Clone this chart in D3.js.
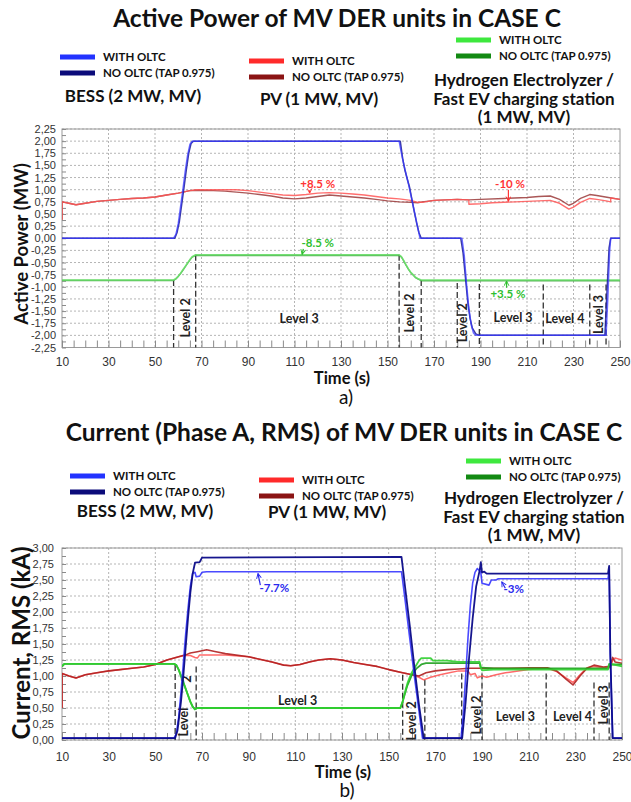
<!DOCTYPE html>
<html>
<head>
<meta charset="utf-8">
<script src="https://cdn.jsdelivr.net/npm/d3@7"></script>
<style>
  body { margin: 0; background: #fff; }
  svg { display: block; }
</style>
</head>
<body>
<div id="chart"></div>
<script>
// shared time axis (s)
const timeTicks = [10, 30, 50, 70, 90, 110, 130, 150, 170, 190, 210, 230, 250];
const powerTicks = [2.25, 2, 1.75, 1.5, 1.25, 1, 0.75, 0.5, 0.25, 0, -0.25, -0.5, -0.75, -1, -1.25, -1.5, -1.75, -2, -2.25];
const currentTicks = [3, 2.75, 2.5, 2.25, 2, 1.75, 1.5, 1.25, 1, 0.75, 0.5, 0.25, 0];

// ---- a) active power (MW), [t, value]
const bessPowerOltc = [[10,0],[58,0],[59,0.08],[60,0.3],[61,0.65],[62,1.0],[63,1.38],[64,1.7],[65,1.93],[66,2.0],[155,2.0],[156,1.75],[157,1.52],[158,1.32],[159,1.12],[160,0.9],[161,0.68],[162,0.45],[163,0.22],[164,0],[182,0],[183,-0.35],[184,-0.95],[185,-1.45],[186,-1.78],[187,-1.95],[188,-2.0],[244,-2.0],[244.8,-1.2],[245.5,-0.3],[246,0],[250,0]];
const bessPowerNoOltc = [[10,0],[58.5,0],[59.5,0.12],[60.5,0.35],[61.5,0.7],[62.5,1.05],[63.5,1.42],[64.5,1.75],[65.5,1.95],[66.5,2.0],[155.5,2.0],[156.5,1.65],[157.5,1.4],[158.5,1.22],[159.5,1.05],[160.5,0.8],[161.5,0.55],[162.5,0.32],[163.5,0.12],[164.5,0],[181.5,0],[182.5,-0.3],[183.5,-0.8],[184.5,-1.3],[185.5,-1.65],[186.5,-1.85],[188,-1.97],[189.5,-2.0],[243.5,-2.0],[244.5,-1.0],[245.3,-0.2],[246,0],[250,0]];
const pvPowerOltc = [[10,0.38],[10,0.75],[13,0.72],[16,0.69],[20,0.72],[25,0.76],[30,0.78],[35,0.8],[40,0.82],[45,0.83],[50,0.85],[55,0.89],[60,0.93],[63,0.96],[65,0.98],[68,1.0],[75,1.0],[85,1.0],[90,0.98],[95,0.95],[100,0.92],[105,0.89],[110,0.88],[115,0.9],[120,0.93],[125,0.94],[130,0.93],[135,0.91],[140,0.89],[145,0.86],[150,0.83],[155,0.81],[160,0.78],[163,0.74],[165,0.74],[170,0.78],[175,0.79],[180,0.8],[185,0.79],[185,0.7],[190,0.71],[195,0.73],[200,0.74],[205,0.75],[210,0.76],[215,0.77],[220,0.78],[224,0.72],[228,0.6],[230,0.64],[233,0.74],[237,0.82],[240,0.8],[244,0.77],[246,0.75],[246,0.83],[250,0.8]];
const pvPowerNoOltc = [[10,0.38],[10,0.75],[13,0.72],[16,0.69],[20,0.72],[25,0.76],[30,0.78],[35,0.8],[40,0.82],[45,0.83],[50,0.85],[55,0.89],[60,0.93],[63,0.96],[65,0.98],[68,0.99],[75,0.98],[80,0.97],[85,0.95],[90,0.93],[95,0.9],[100,0.87],[105,0.83],[110,0.81],[115,0.83],[120,0.86],[125,0.89],[130,0.87],[135,0.85],[140,0.83],[145,0.8],[150,0.77],[155,0.75],[160,0.74],[163,0.73],[165,0.75],[170,0.78],[175,0.79],[180,0.8],[185,0.79],[190,0.8],[200,0.82],[210,0.84],[215,0.86],[220,0.87],[224,0.8],[228,0.68],[230,0.72],[233,0.82],[237,0.9],[240,0.88],[245,0.84],[250,0.8]];
const h2PowerOltc = [[10,-0.86],[58,-0.86],[59,-0.83],[60,-0.78],[61,-0.72],[62,-0.65],[63,-0.58],[64,-0.51],[65,-0.44],[66,-0.38],[67.5,-0.34],[155,-0.34],[156,-0.38],[157,-0.46],[158,-0.55],[159,-0.63],[160,-0.7],[161,-0.75],[162,-0.8],[163,-0.83],[164.5,-0.86],[250,-0.86]];
const h2PowerNoOltc = [[10,-0.87],[58,-0.87],[59,-0.84],[60,-0.79],[61,-0.73],[62,-0.66],[63,-0.59],[64,-0.52],[65,-0.45],[66,-0.39],[67.5,-0.355],[155,-0.355],[156,-0.39],[157,-0.47],[158,-0.56],[159,-0.64],[160,-0.71],[161,-0.76],[162,-0.81],[163,-0.84],[164.5,-0.875],[250,-0.875]];
const levelLinesP = [[58,-0.86],[67.5,-0.34],[155,-0.34],[164.5,-0.86],[180,-0.92],[189.5,-0.94],[217,-0.95],[237,-0.95],[244,-0.95]];
const levelLabelsP = [
  {t: 63, v: -1.64, text: "Level 2", rotate: true},
  {t: 112, v: -1.65, text: "Level 3", rotate: false},
  {t: 159.7, v: -1.54, text: "Level 2", rotate: true},
  {t: 182.3, v: -1.74, text: "Level 2", rotate: true},
  {t: 204, v: -1.64, text: "Level 3", rotate: false},
  {t: 226.3, v: -1.65, text: "Level 4", rotate: false},
  {t: 240.8, v: -1.57, text: "Level 3", rotate: true}
];
const notesP = [
  {t: 120, v: 1.04, text: "+8.5 %", unit: "pv", from: [116.5, 0.99], to: [116.5, 0.93]},
  {t: 202.7, v: 1.04, text: "-10 %", unit: "pv", from: [202, 1.0], to: [202, 0.76]},
  {t: 120, v: -0.19, text: "-8.5 %", unit: "h2", from: [113.8, -0.22], to: [113.3, -0.33]},
  {t: 201.8, v: -1.23, text: "+3.5 %", unit: "h2", from: [201.2, -1.02], to: [201.2, -0.88]}
];

// ---- b) current, phase A RMS (kA), [t, value]
const bessCurrentOltc = [[10,0.03],[58,0.03],[59,0.1],[60,0.35],[61,0.75],[62,1.2],[63,1.65],[64,2.05],[65,2.4],[66,2.6],[67,2.62],[67.5,2.55],[69,2.56],[70,2.62],[72,2.63],[155.5,2.63],[157,2.2],[159,1.6],[161,1.0],[163,0.45],[164.5,0.03],[181,0.03],[182,0.4],[183,1.0],[184,1.6],[185,2.1],[186,2.45],[187,2.62],[188,2.68],[189.5,2.62],[190,2.45],[193,2.42],[194,2.5],[196,2.5],[197,2.52],[244,2.52],[244.5,2.65],[245,1.3],[246,0.03],[250,0.03]];
const bessCurrentNoOltc = [[10,0.03],[58.5,0.03],[59.5,0.15],[61,0.6],[62,1.0],[63,1.45],[64,1.9],[65,2.3],[66,2.6],[67,2.77],[69,2.78],[70,2.85],[155.5,2.86],[157,2.4],[159,1.8],[161,1.15],[163,0.55],[165,0.03],[181.5,0.03],[183,0.6],[184.5,1.3],[186,1.9],[187.5,2.4],[189,2.65],[189.5,2.78],[190,2.62],[191,2.63],[192,2.6],[244,2.6],[244.5,2.72],[245,1.35],[246,0.03],[250,0.03]];
const pvCurrentOltc = [[10,0.5],[10,1.04],[13,1.0],[16,0.97],[20,1.02],[25,1.05],[30,1.08],[35,1.1],[40,1.12],[45,1.14],[50,1.18],[55,1.25],[60,1.3],[62,1.32],[65,1.32],[67,1.29],[68,1.28],[69,1.33],[72,1.33],[80,1.33],[90,1.3],[100,1.22],[105,1.17],[108,1.16],[112,1.18],[116,1.22],[120,1.25],[125,1.27],[130,1.25],[135,1.21],[140,1.18],[145,1.15],[150,1.1],[155,1.06],[160,1.02],[163,0.98],[165,0.94],[168,0.98],[172,1.02],[176,1.05],[180,1.08],[184,1.08],[185,1.02],[187,1.04],[188,0.97],[190,1.0],[192,0.98],[196,1.02],[200,1.05],[210,1.1],[218,1.12],[222,1.07],[226,0.97],[229,0.9],[232,1.02],[235,1.13],[238,1.15],[242,1.13],[245,1.13],[246,1.25],[247,1.28],[250,1.25]];
const pvCurrentNoOltc = [[10,0.5],[10,1.04],[13,1.0],[16,0.97],[20,1.02],[25,1.05],[30,1.08],[35,1.1],[40,1.12],[45,1.14],[50,1.18],[55,1.25],[60,1.3],[63,1.33],[65,1.36],[68,1.38],[72,1.41],[76,1.38],[80,1.35],[90,1.3],[100,1.22],[105,1.17],[108,1.16],[112,1.18],[116,1.22],[120,1.25],[125,1.27],[130,1.25],[135,1.21],[140,1.18],[145,1.15],[150,1.1],[155,1.06],[160,1.02],[163,1.0],[166,1.05],[170,1.08],[175,1.1],[180,1.11],[185,1.12],[190,1.12],[200,1.12],[210,1.13],[218,1.13],[222,1.08],[226,0.95],[229,0.86],[232,1.0],[235,1.12],[238,1.17],[242,1.14],[245,1.15],[246,1.29],[247,1.22],[250,1.2]];
const h2CurrentOltc = [[10,1.15],[11,1.19],[58,1.19],[59,1.17],[60,1.1],[61,1.0],[62,0.9],[63,0.8],[64,0.7],[65,0.6],[66,0.52],[67,0.48],[68,0.5],[155,0.5],[156,0.6],[157,0.75],[158,0.88],[159,0.98],[160,1.06],[161,1.12],[162,1.18],[163,1.24],[164,1.28],[168,1.28],[169,1.24],[175,1.24],[180,1.22],[189,1.22],[189.5,1.12],[190,1.09],[195,1.1],[200,1.1],[244,1.1],[244.5,1.19],[246,1.18],[250,1.15]];
const h2CurrentNoOltc = [[10,1.15],[11,1.19],[58,1.19],[59,1.17],[60,1.1],[61,1.0],[62,0.9],[63,0.8],[64,0.7],[65,0.6],[66,0.52],[67,0.48],[68,0.5],[155,0.5],[156,0.6],[158,0.85],[160,1.02],[162,1.12],[164,1.18],[166,1.2],[189,1.2],[189.5,1.13],[190,1.13],[195,1.12],[244,1.12],[244.5,1.18],[250,1.18]];
const levelLinesI = [[58.5,1.17],[67.5,1.15],[156,1.02],[165.5,0.94],[181.3,1.04],[190,1.04],[217.5,1.04],[238,0.9],[244.5,0.9]];
const levelLabelsI = [
  {t: 62.3, v: 0.28, text: "Level", rotate: true},
  {t: 63.3, v: 0.95, text: "2", rotate: true},
  {t: 111, v: 0.62, text: "Level 3", rotate: false},
  {t: 159.9, v: 0.3, text: "Level 2", rotate: true},
  {t: 187.6, v: 0.39, text: "Level 2", rotate: true},
  {t: 204.3, v: 0.36, text: "Level 3", rotate: false},
  {t: 228.8, v: 0.36, text: "Level 4", rotate: false},
  {t: 242, v: 0.55, text: "Level 3", rotate: true}
];
const notesI = [
  {t: 101, v: 2.31, text: "-7.7%", unit: "bess", from: [95, 2.42], to: [94, 2.6]},
  {t: 203.6, v: 2.3, text: "-3%", unit: "bess", from: [200, 2.37], to: [198.5, 2.47]}
];

const units = ["BESS (2 MW, MV)", "PV (1 MW, MV)", ["Hydrogen Electrolyzer /", "Fast EV charging station", "(1 MW, MV)"]];
const seriesNames = ["WITH OLTC", "NO OLTC (TAP 0.975)"];

const colors = {
  bess: ["#2233ff", "#0b0b7a"],
  pv: ["#ff2a2a", "#8b1414"],
  h2: ["#3ee83e", "#138a13"]
};
const noteColors = {bess: "#2a2aee", pv: "#ff3535", h2: "#2fbf2f"};
const font = "Lato, 'Open Sans', sans-serif";
const tickFont = "'Liberation Sans', Arial, sans-serif";

const fmt = d3.formatLocale({decimal: ",", thousands: ".", grouping: [3], currency: ["", ""], minus: "-"}).format(".2f");

const svg = d3.select("#chart").append("svg")
  .attr("width", 631)
  .attr("height", 802);

const defs = svg.append("defs");
Object.entries(noteColors).forEach(([k, c]) => {
  defs.append("marker")
    .attr("id", "arr-" + k)
    .attr("viewBox", "0 0 10 10")
    .attr("refX", 9).attr("refY", 5)
    .attr("markerWidth", 5).attr("markerHeight", 5)
    .attr("orient", "auto")
    .append("path")
      .attr("d", "M1,1L9,5L1,9")
      .attr("fill", "none")
      .attr("stroke", c)
      .attr("stroke-width", 1.6);
});

function drawPanel(p) {
  const x = d3.scaleLinear([10, 250], [p.left, p.right]);
  const y = d3.scaleLinear(p.yDomain, [p.bottom, p.top]);
  const g = svg.append("g");

  // title
  g.append("text")
    .attr("x", p.titleX).attr("y", p.titleY)
    .attr("text-anchor", "middle")
    .attr("font-family", font).attr("font-weight", 700)
    .attr("font-size", p.titleSize)
    .attr("fill", "#111")
    .text(p.title);

  // legend
  const unitKeys = ["bess", "pv", "h2"];
  p.legend.forEach((L, k) => {
    const lg = g.append("g");
    colors[unitKeys[k]].forEach((c, j) => {
      const yy = L.y + j * L.dy;
      lg.append("rect")
        .attr("x", L.x).attr("y", yy - 2.5)
        .attr("width", 35).attr("height", 5)
        .attr("fill", c);
      lg.append("text")
        .attr("x", L.x + 43).attr("y", yy + 4)
        .attr("font-family", font).attr("font-weight", 700)
        .attr("font-size", 11.5)
        .attr("fill", "#111")
        .text(seriesNames[j]);
    });
    [].concat(units[k]).forEach((s, j) => {
      lg.append("text")
        .attr("x", L.ux).attr("y", L.uy + j * 18.5)
        .attr("text-anchor", "middle")
        .attr("font-family", font).attr("font-weight", 700)
        .attr("font-size", 17)
        .attr("fill", "#111")
        .text(s);
    });
  });

  // grid
  g.append("g").selectAll("line")
    .data(p.yTicks)
    .join("line")
      .attr("x1", p.left).attr("x2", p.right)
      .attr("y1", d => y(d)).attr("y2", d => y(d))
      .attr("stroke", "#b5b5b5")
      .attr("stroke-dasharray", "2,2");
  g.append("g").selectAll("line")
    .data(timeTicks.slice(1, -1))
    .join("line")
      .attr("x1", d => x(d)).attr("x2", d => x(d))
      .attr("y1", p.top).attr("y2", p.bottom)
      .attr("stroke", "#b5b5b5")
      .attr("stroke-dasharray", "2,2");

  g.append("rect")
    .attr("x", p.left).attr("y", p.top)
    .attr("width", p.right - p.left).attr("height", p.bottom - p.top)
    .attr("fill", "none").attr("stroke", "#9a9a9a");

  // minor ticks
  g.append("g")
    .attr("transform", `translate(0,${p.bottom})`)
    .call(d3.axisTop(x).tickValues(d3.range(10, 251, 5)).tickSize(7).tickFormat(""))
    .call(a => a.select(".domain").remove())
    .selectAll("line").attr("stroke", "#8a8a8a");
  g.append("g")
    .attr("transform", `translate(${p.left},0)`)
    .call(d3.axisRight(y).tickValues(d3.range(p.yDomain[0], p.yDomain[1] + 1e-6, 0.125)).tickSize(4).tickFormat(""))
    .call(a => a.select(".domain").remove())
    .selectAll("line").attr("stroke", "#8a8a8a");

  // tick labels
  g.append("g")
    .attr("transform", `translate(0,${p.bottom})`)
    .call(d3.axisBottom(x).tickValues(timeTicks).tickSize(0).tickPadding(p.xPad))
    .call(a => a.select(".domain").remove())
    .selectAll("text")
      .attr("font-family", tickFont)
      .attr("font-size", 12).attr("fill", "#333");
  g.append("g")
    .attr("transform", `translate(${p.left},0)`)
    .call(d3.axisLeft(y).tickValues(p.yTicks).tickFormat(fmt).tickSize(0).tickPadding(p.yPad))
    .call(a => a.select(".domain").remove())
    .selectAll("text")
      .attr("font-family", tickFont)
      .attr("font-size", 11).attr("fill", "#333");

  g.append("text")
    .attr("transform", `translate(${p.yLabelX},${p.yLabelY}) rotate(-90)`)
    .attr("text-anchor", "middle")
    .attr("font-family", font).attr("font-weight", 700)
    .attr("font-size", p.yLabelSize).attr("fill", "#111")
    .text(p.yLabel);
  g.append("text")
    .attr("x", p.timeX).attr("y", p.timeY)
    .attr("text-anchor", "middle")
    .attr("font-family", font).attr("font-weight", 700)
    .attr("font-size", 16.5).attr("fill", "#111")
    .text("Time (s)");
  g.append("text")
    .attr("x", p.timeX + 4).attr("y", p.tagY)
    .attr("text-anchor", "middle")
    .attr("font-family", font)
    .attr("font-size", 19).attr("fill", "#111")
    .text(p.tag);

  // level markers
  g.append("g").selectAll("line")
    .data(p.levelLines)
    .join("line")
      .attr("x1", d => x(d[0])).attr("x2", d => x(d[0]))
      .attr("y1", d => y(d[1])).attr("y2", p.bottom)
      .attr("stroke", "#333")
      .attr("stroke-width", 1.3)
      .attr("stroke-dasharray", "6,3");
  g.append("g").selectAll("text")
    .data(p.levelLabels)
    .join("text")
      .attr("transform", d => `translate(${x(d.t)},${y(d.v)})` + (d.rotate ? " rotate(-90)" : ""))
      .attr("text-anchor", "middle")
      .attr("dy", "0.35em")
      .attr("font-family", font).attr("font-weight", 700)
      .attr("font-size", 12.5).attr("fill", "#222")
      .text(d => d.text);

  // series
  const clipId = "clip-" + p.tag[0];
  defs.append("clipPath").attr("id", clipId)
    .append("rect")
      .attr("x", p.left).attr("y", p.top - 1)
      .attr("width", p.right - p.left).attr("height", p.bottom - p.top + 2);
  const line = d3.line().x(d => x(d[0])).y(d => y(d[1]));
  const plot = g.append("g").attr("clip-path", `url(#${clipId})`);
  p.series.forEach(s => {
    plot.append("path")
      .datum(s.data)
      .attr("fill", "none")
      .attr("stroke", s.color)
      .attr("stroke-width", s.width)
      .attr("stroke-opacity", s.opacity)
      .attr("stroke-linejoin", "round")
      .attr("d", line);
  });

  // annotations
  p.notes.forEach(n => {
    g.append("text")
      .attr("x", x(n.t)).attr("y", y(n.v))
      .attr("text-anchor", "middle")
      .attr("font-family", font).attr("font-weight", 700)
      .attr("font-size", 11.5)
      .attr("fill", noteColors[n.unit])
      .text(n.text);
    g.append("line")
      .attr("x1", x(n.from[0])).attr("y1", y(n.from[1]))
      .attr("x2", x(n.to[0])).attr("y2", y(n.to[1]))
      .attr("stroke", noteColors[n.unit])
      .attr("stroke-width", 1.2)
      .attr("marker-end", `url(#arr-${n.unit})`);
  });
}

drawPanel({
  title: "Active Power of MV DER units in CASE C",
  titleX: 337, titleY: 27, titleSize: 24.5,
  legend: [
    {x: 60, y: 57, dy: 16, ux: 133, uy: 102},
    {x: 249, y: 61, dy: 16, ux: 319, uy: 105},
    {x: 456, y: 40, dy: 16, ux: 524, uy: 86}
  ],
  left: 62, right: 620, top: 129, bottom: 347.5,
  yDomain: [-2.25, 2.25], yTicks: powerTicks,
  xPad: 10, yPad: 6,
  yLabel: "Active Power (MW)", yLabelX: 28, yLabelY: 244, yLabelSize: 18.5,
  timeX: 342, timeY: 384, tag: "a)", tagY: 404,
  levelLines: levelLinesP, levelLabels: levelLabelsP, notes: notesP,
  series: [
    {data: pvPowerNoOltc, color: "#9b3a3a", width: 1.4, opacity: 0.85},
    {data: pvPowerOltc, color: "#ff5555", width: 1.4, opacity: 0.85},
    {data: h2PowerNoOltc, color: "#2f9f2f", width: 1.3, opacity: 0.8},
    {data: h2PowerOltc, color: "#6adf6a", width: 1.6, opacity: 0.9},
    {data: bessPowerNoOltc, color: "#1a1a90", width: 1.5, opacity: 0.85},
    {data: bessPowerOltc, color: "#3a3aff", width: 1.5, opacity: 0.75}
  ]
});

drawPanel({
  title: "Current (Phase A, RMS) of MV DER units in CASE C",
  titleX: 344, titleY: 441, titleSize: 24.5,
  legend: [
    {x: 70, y: 476, dy: 16, ux: 145, uy: 517},
    {x: 259, y: 480, dy: 16, ux: 327, uy: 518},
    {x: 466, y: 461, dy: 16, ux: 534, uy: 504}
  ],
  left: 62, right: 622, top: 548, bottom: 740,
  yDomain: [0, 3], yTicks: currentTicks,
  xPad: 12, yPad: 8,
  yLabel: "Current, RMS (kA)", yLabelX: 30, yLabelY: 643, yLabelSize: 24,
  timeX: 343, timeY: 778, tag: "b)", tagY: 797,
  levelLines: levelLinesI, levelLabels: levelLabelsI, notes: notesI,
  series: [
    {data: pvCurrentOltc, color: "#ff5050", width: 1.5, opacity: 0.85},
    {data: pvCurrentNoOltc, color: "#b02020", width: 1.6, opacity: 0.9},
    {data: h2CurrentNoOltc, color: "#1ea01e", width: 1.8, opacity: 0.9},
    {data: h2CurrentOltc, color: "#30d030", width: 1.8, opacity: 0.9},
    {data: bessCurrentOltc, color: "#2a2aff", width: 1.6, opacity: 0.85},
    {data: bessCurrentNoOltc, color: "#0a0a88", width: 1.8, opacity: 0.95}
  ]
});
</script>
</body>
</html>
